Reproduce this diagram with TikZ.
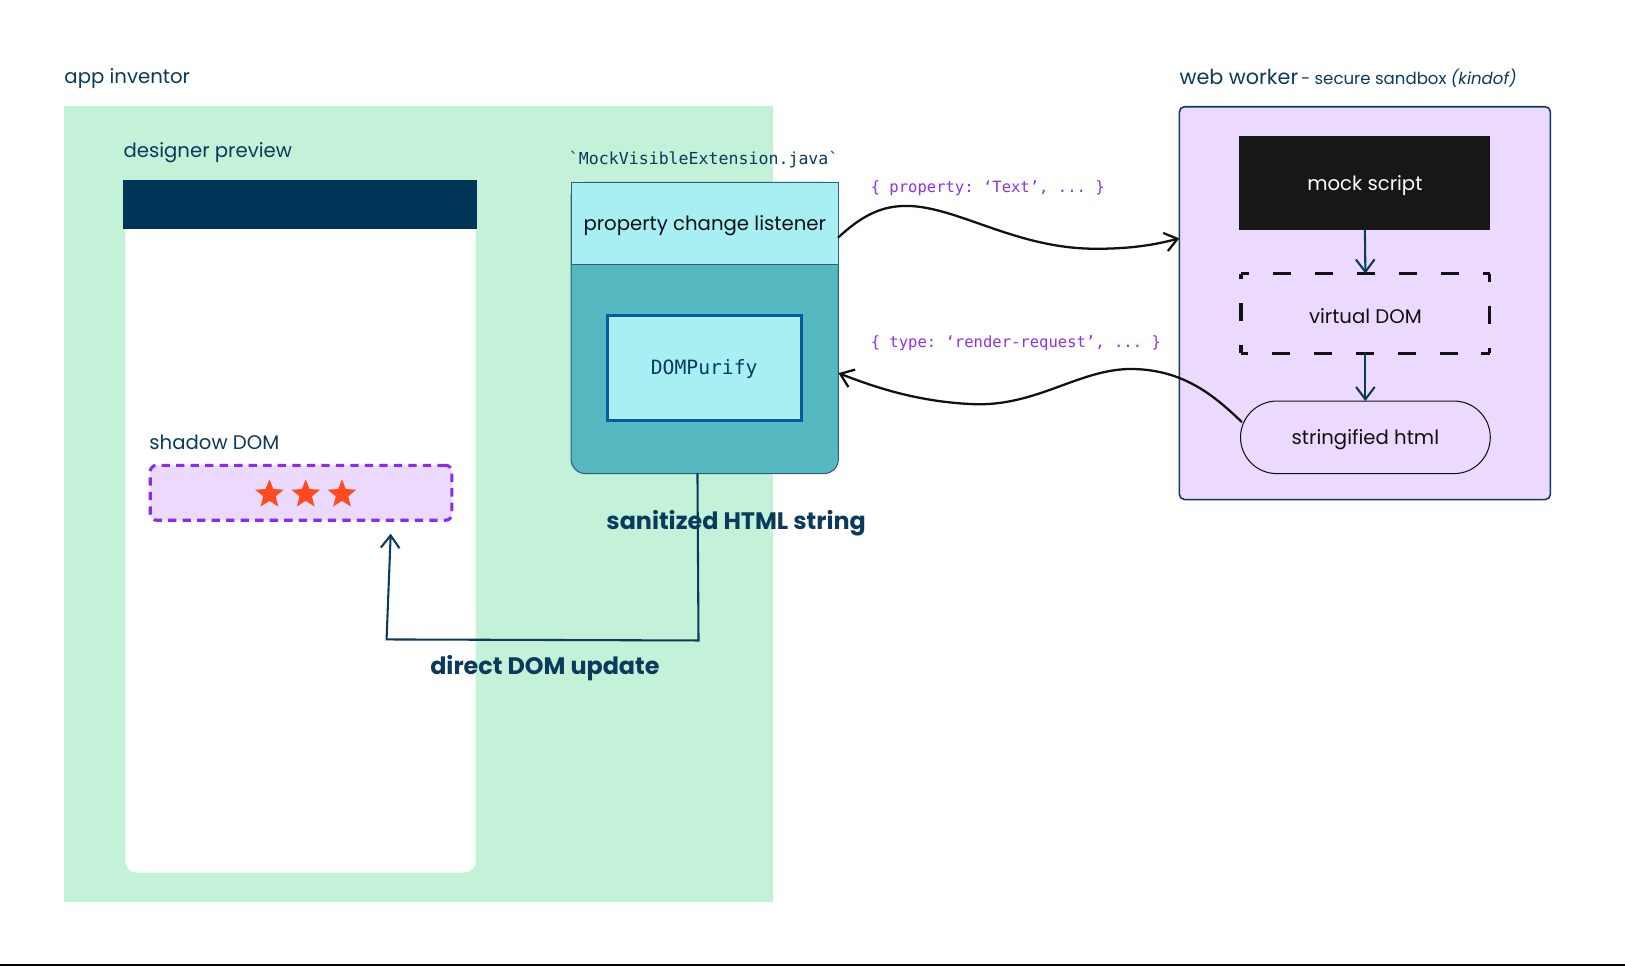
\documentclass[tikz,border=0pt]{standalone}
\usepackage{fontspec}
\setmainfont{Poppins}
\setmonofont{DejaVu Sans Mono}
\usetikzlibrary{arrows.meta,shapes.geometric,calc}
\definecolor{navy}{HTML}{0B3A5E}
\definecolor{hdrnavy}{HTML}{00355A}
\definecolor{appgreen}{HTML}{C3F2D9}
\definecolor{lilac}{HTML}{EBDAFD}
\definecolor{violet}{HTML}{8B2BF2}
\definecolor{codeviolet}{HTML}{9030E8}
\definecolor{lightcyan}{HTML}{A8EFF3}
\definecolor{tealbox}{HTML}{55B8C1}
\definecolor{tealborder}{HTML}{2E5F7E}
\definecolor{purifyborder}{HTML}{0B5A99}
\definecolor{starred}{HTML}{FF4B1F}
\definecolor{scriptblack}{HTML}{171717}
\definecolor{inkblack}{HTML}{111111}
\tikzset{
  box/.style={inner sep=0pt, outer sep=0pt, anchor=north west},
  lbl/.style={inner sep=0pt, anchor=west, text=navy, yshift=-2.5pt, font=\fontsize{19}{23}\selectfont},
  plain/.style={inner sep=0pt, text=inkblack, yshift=-2.5pt, font=\fontsize{19}{23}\selectfont},
  codelbl/.style={inner sep=0pt, anchor=west, text=codeviolet, yshift=-1pt, font=\ttfamily\fontsize{15}{18}\selectfont},
  boldlbl/.style={inner sep=0pt, anchor=west, text=navy, yshift=-2.5pt, font=\bfseries\fontsize{23}{27}\selectfont},
  wave/.style={draw=inkblack, line width=2.2pt, line cap=round, -{Straight Barb[length=12pt,width=18pt,line width=2.2pt]}},
  navyarrow/.style={draw=navy, line width=2pt, line cap=round, -{Straight Barb[length=12pt,width=18pt,line width=2pt]}},
  starnode/.style={star, star points=5, star point ratio=2.3, fill=starred, minimum size=29pt, inner sep=0pt}
}
\begin{document}
\begin{tikzpicture}[x=1pt,y=-1pt]
\useasboundingbox (0,0) rectangle (1568,932);
\fill[white] (0,0) rectangle (1568,932);
\draw[line width=2pt] (0,931) -- (1568,931);

% ---------- app inventor ----------
\node[lbl] (applbl) at (62,73) {app inventor};
\node[box, fill=appgreen, minimum width=684pt, minimum height=768pt] (appbox) at (62,102) {};
\node[lbl] (designlbl) at (119,145) {designer preview};
\node[box, fill=white, rounded corners=11pt, minimum width=338pt, minimum height=642pt] (phone) at (121,200) {};
\node[box, fill=hdrnavy, minimum width=341pt, minimum height=47pt] (phonehead) at (119,174) {};
\node[lbl] (shadowlbl) at (144,424) {shadow DOM};
\node[box, fill=lilac, draw=violet, line width=3pt, dash pattern=on 8pt off 6pt, rounded corners=6pt,
      minimum width=291pt, minimum height=53pt] (shadow) at (145,449) {};
\node[starnode] (star1) at (260,477) {};
\node[starnode] (star2) at (295,477) {};
\node[starnode] (star3) at (330,477) {};

% ---------- MockVisibleExtension ----------
\node[inner sep=0pt, text=navy, yshift=-1pt, font=\ttfamily\fontsize{16}{19}\selectfont] (javalbl) at (679,153) {`MockVisibleExtension.java`};
\node[box, fill=tealbox, draw=tealborder, line width=1pt, rounded corners=14pt,
      minimum width=258pt, minimum height=281pt] (javabox) at (551,176) {};
\node[box, fill=lightcyan, draw=tealborder, line width=1pt, minimum width=258pt, minimum height=79pt] (pcl) at (551,176) {};
\node[plain] (pcltext) at (pcl.center) {property change listener};
\node[box, fill=lightcyan, draw=purifyborder, line width=3pt, minimum width=187pt, minimum height=102pt] (purify) at (586,304) {};
\node[inner sep=0pt, text=navy, yshift=-1.5pt, font=\ttfamily\fontsize{19}{22}\selectfont] (purifytext) at (purify.center) {DOMPurify};

% ---------- web worker ----------
\node[inner sep=0pt, anchor=west, text=navy, yshift=-2.5pt] (workerlbl) at (1138,73)
  {{\fontsize{20}{24}\selectfont web worker} {\fontsize{16}{20}\selectfont - secure sandbox \textit{(kindof)}}};
\node[box, fill=lilac, draw=navy, line width=1.5pt, rounded corners=5pt, minimum width=358pt, minimum height=379pt] (worker) at (1138,103) {};
\node[box, fill=scriptblack, minimum width=242pt, minimum height=91pt] (mock) at (1196,131) {};
\node[plain, text=white] (mocktext) at (mock.center) {mock script};
\node[box, minimum width=240pt, minimum height=77pt] (vdom) at (1197.5,264) {};
\begin{scope}[line width=3pt, dash pattern=on 17.5pt off 23pt, dash phase=9.5pt, draw=inkblack]
  \draw (vdom.north west) -- (vdom.north east);
  \draw (vdom.north east) -- (vdom.south east);
  \draw (vdom.south east) -- (vdom.south west);
  \draw (vdom.south west) -- (vdom.north west);
\end{scope}
\node[plain] (vdomtext) at (vdom.center) {virtual DOM};
\node[box, fill=lilac, draw=inkblack, line width=1pt, rounded corners=35pt, minimum width=241pt, minimum height=70pt] (pill) at (1197,387) {};
\node[plain] (pilltext) at (pill.center) {stringified html};
\draw[navyarrow] (mock.south) -- (vdom.north);
\draw[navyarrow] (vdom.south) -- (pill.north);

% ---------- messages ----------
\node[codelbl] (msg1) at (840,181) {\{ property: ‘Text’, ... \}};
\node[codelbl] (msg2) at (840,330) {\{ type: ‘render-request’, ... \}};

\coordinate (w1s) at ($(pcl.east)+(0,13.5)$);
\coordinate (w1e) at ($(worker.north west)+(0,127)$);
\draw[wave] (w1s) .. controls (835,205) and (855,197) .. (882,199)
  .. controls (930,203) and (985,241) .. (1060,240)
  .. controls (1092,240) and (1115,236) .. (w1e);

\coordinate (w2s) at ($(pill.west)+(1,-15)$);
\coordinate (w2e) at ($(javabox.east)+(0,43.5)$);
\draw[wave] (w2s) .. controls (1170,380) and (1140,356) .. (1090,356)
  .. controls (1040,357) and (1000,392) .. (940,390)
  .. controls (890,388) and (850,376) .. (w2e);

% ---------- sanitized path ----------
\coordinate (d1) at ($(javabox.south)+(-7,0)$);
\coordinate (d2) at (674,618);
\coordinate (d3) at (373,617);
\coordinate (d4) at ($(shadow.south east)+(-59,13)$);
\draw[navyarrow] (d1) -- (d2) -- (d3) -- (d4);
\node[boldlbl] (sanlbl) at (585,502) {sanitized HTML string};
\node[boldlbl] (domlbl) at (415,642) {direct DOM update};
\end{tikzpicture}
\end{document}
